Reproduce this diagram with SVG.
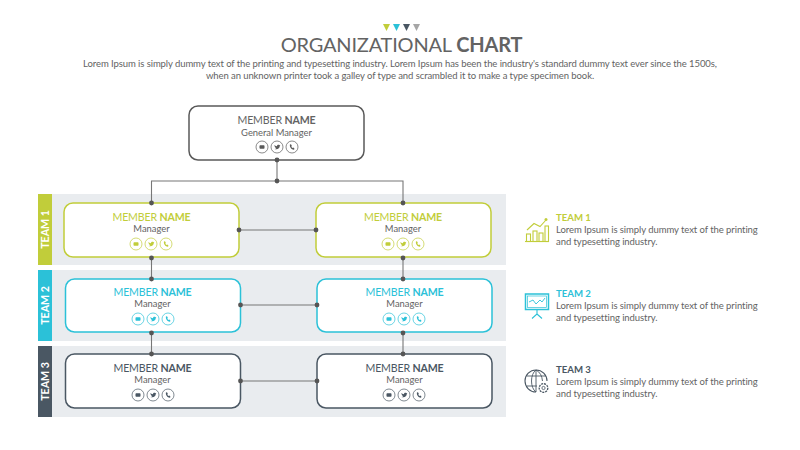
<svg xmlns="http://www.w3.org/2000/svg" width="800" height="450" viewBox="0 0 800 450">
<style>
text{font-family:"Lato","Liberation Sans",sans-serif;fill:#636363}
.title{font-size:20px;letter-spacing:-.2px;text-anchor:middle}
.lead{font-size:9.500px;letter-spacing:-.085px;text-anchor:middle}
.name{font-size:10.600px;letter-spacing:-.15px;text-anchor:middle}
.role{font-size:9.400px;text-anchor:middle}
.bar{font-size:10.600px;font-weight:700;fill:#fff;text-anchor:middle}
.th{font-size:9.600px;font-weight:700}
.td{font-size:9.500px;letter-spacing:-.07px}
.b{font-weight:700}
.node{fill:#fff;stroke-width:1.500}
.band{fill:#e9ecef}
.g{color:#c1cd3a}.c{color:#2bc1d8}.d{color:#4a5763}.k{color:#595959}
.gt{fill:#c1cd3a}.ct{fill:#2bc1d8}.dt{fill:#4a5763}
.line{stroke:#777;stroke-width:1.100;fill:none}
.dot{fill:#555}
.ic{fill:none;stroke:currentColor;stroke-width:1.100}
</style>
<defs>
<g id="social">
<circle cx="-15" cy="0" r="6" fill="none" stroke="currentColor" stroke-width=".7"/>
<circle cx="0" cy="0" r="6" fill="none" stroke="currentColor" stroke-width=".7"/>
<circle cx="15" cy="0" r="6" fill="none" stroke="currentColor" stroke-width=".7"/>
<rect x="-17.500" y="-1.700" width="5" height="3.400" rx=".7" fill="currentColor"/>
<path d="M-2.600 -1.900C-1.300 -.9 -.7 -.7 0 -.8C0 -2.200 1.700 -2.600 2.600 -1.700L3.300 -1.900L2.800 -1C2.800 1.300 .4 3.100 -2.600 1.900C-1.600 1.900 -1 1.600 -.7 1.200C-1.700 .9 -2.600 -.5 -2.600 -1.900Z" fill="currentColor"/>
<path d="M12.900 -2.500L14 -2.700L14.900 -1.100L14.200 -.3L15.500 1.100L16.400 .6L17.500 1.800L17 2.700C14.600 2.900 12.500 .2 12.900 -2.500Z" fill="currentColor"/>
</g>
</defs>

<g id="header">
<path d="M383 24h7l-3.500 7z" fill="#c1cd3a"/>
<path d="M393 24h7l-3.500 7z" fill="#2bc1d8"/>
<path d="M403 24h7l-3.500 7z" fill="#4a5763"/>
<path d="M413 24h7l-3.500 7z" fill="#a6a6a6"/>
<text class="title" x="401.500" y="52">ORGANIZATIONAL <tspan class="b">CHART</tspan></text>
<text class="lead" x="400" y="67">Lorem Ipsum is simply dummy text of the printing and typesetting industry. Lorem Ipsum has been the industry's standard dummy text ever since the 1500s,</text>
<text class="lead" x="400" y="79">when an unknown printer took a galley of type and scrambled it to make a type specimen book.</text>
</g>

<g id="bands">
<rect class="band" x="52" y="194" width="454" height="71"/>
<rect class="band" x="52" y="270" width="454" height="71"/>
<rect class="band" x="52" y="346" width="454" height="71"/>
</g>
<g id="team-bar-1"><rect x="38" y="194" width="14" height="71" fill="#c1cd3a"/><text class="bar" transform="translate(49 229.500) rotate(-90)">TEAM 1</text></g>
<g id="team-bar-2"><rect x="38" y="270" width="14" height="71" fill="#2bc1d8"/><text class="bar" transform="translate(49 305.500) rotate(-90)">TEAM 2</text></g>
<g id="team-bar-3"><rect x="38" y="346" width="14" height="71" fill="#4a5763"/><text class="bar" transform="translate(49 381.500) rotate(-90)">TEAM 3</text></g>

<g id="connectors">
<path class="line" d="M277 160V181M151.500 203V181H403V203"/>
<path class="line" d="M151.500 257V279M403 257V279M151.500 332V354M403 332V354"/>
<path class="line" d="M239 230H316M240.500 305H317M240.500 381H317"/>
</g>

<g id="node-gm">
<rect class="node" x="189" y="106" width="175" height="54" rx="9" stroke="#595959"/>
<text class="name" x="276.500" y="124">MEMBER <tspan class="b">NAME</tspan></text>
<text class="role" x="276.500" y="136">General Manager</text>
<use href="#social" x="277" y="147" class="k"/>
</g>

<g id="node-t1-l">
<rect class="node" x="64" y="203" width="175" height="54" rx="9" stroke="#c1cd3a"/>
<text class="name gt" x="151.500" y="221">MEMBER <tspan class="b">NAME</tspan></text>
<text class="role" x="151.500" y="232">Manager</text>
<use href="#social" x="151" y="244" class="g"/>
</g>
<g id="node-t1-r">
<rect class="node" x="316" y="203" width="175" height="54" rx="9" stroke="#c1cd3a"/>
<text class="name gt" x="403" y="221">MEMBER <tspan class="b">NAME</tspan></text>
<text class="role" x="403" y="232">Manager</text>
<use href="#social" x="403" y="244" class="g"/>
</g>
<g id="node-t2-l">
<rect class="node" x="65.500" y="279" width="175" height="53" rx="9" stroke="#2bc1d8"/>
<text class="name ct" x="152.500" y="296">MEMBER <tspan class="b">NAME</tspan></text>
<text class="role" x="152.500" y="307">Manager</text>
<use href="#social" x="153" y="319" class="c"/>
</g>
<g id="node-t2-r">
<rect class="node" x="317" y="279" width="175" height="53" rx="9" stroke="#2bc1d8"/>
<text class="name ct" x="404.500" y="296">MEMBER <tspan class="b">NAME</tspan></text>
<text class="role" x="404.500" y="307">Manager</text>
<use href="#social" x="404" y="319" class="c"/>
</g>
<g id="node-t3-l">
<rect class="node" x="65.500" y="354" width="175" height="54" rx="9" stroke="#4a5763"/>
<text class="name dt" x="152.500" y="372">MEMBER <tspan class="b">NAME</tspan></text>
<text class="role" x="152.500" y="383">Manager</text>
<use href="#social" x="153" y="395" class="d"/>
</g>
<g id="node-t3-r">
<rect class="node" x="317" y="354" width="175" height="54" rx="9" stroke="#4a5763"/>
<text class="name dt" x="404.500" y="372">MEMBER <tspan class="b">NAME</tspan></text>
<text class="role" x="404.500" y="383">Manager</text>
<use href="#social" x="404" y="395" class="d"/>
</g>

<g id="connector-dots" class="dot">
<circle cx="277" cy="160" r="2.400"/><circle cx="277" cy="181" r="2.400"/>
<circle cx="151.500" cy="203" r="2.400"/><circle cx="403" cy="203" r="2.400"/>
<circle cx="151.500" cy="258" r="2.400"/><circle cx="403" cy="258" r="2.400"/>
<circle cx="151.500" cy="279" r="2.400"/><circle cx="403" cy="279" r="2.400"/>
<circle cx="151.500" cy="333" r="2.400"/><circle cx="403" cy="333" r="2.400"/>
<circle cx="151.500" cy="354" r="2.400"/><circle cx="403" cy="354" r="2.400"/>
<circle cx="239" cy="230" r="2.400"/><circle cx="316" cy="230" r="2.400"/>
<circle cx="240.500" cy="305" r="2.400"/><circle cx="317" cy="305" r="2.400"/>
<circle cx="240.500" cy="381" r="2.400"/><circle cx="317" cy="381" r="2.400"/>
</g>

<g id="legend-1" class="g">
<g class="ic">
<path d="M525 241.500H549"/>
<rect x="526.500" y="234" width="4" height="7.500"/><rect x="533" y="231" width="4" height="10.500"/><rect x="539" y="233" width="4" height="8.500"/><rect x="545" y="226" width="3.500" height="15.500"/>
<path d="M527 230L534 223.500L540 226.500L546 220"/>
</g>
<circle cx="546" cy="219.500" r="1.500" fill="currentColor"/>
<text class="th gt" x="556" y="221">TEAM 1</text>
<text class="td" x="556" y="233">Lorem Ipsum is simply dummy text of the printing</text>
<text class="td" x="556" y="245">and typesetting industry.</text>
</g>
<g id="legend-2" class="c">
<g class="ic">
<rect x="525.500" y="294" width="23" height="15.500" stroke-width="1.500"/>
<rect x="527.500" y="296" width="19" height="11.500" stroke-width=".7"/>
<path d="M529 302L533 300L536 304L540 300L542 302L545 298" stroke-width=".9"/>
<path d="M537 310V314L532 318.500M537 314L542 318.500"/>
</g>
<text class="th ct" x="556" y="297">TEAM 2</text>
<text class="td" x="556" y="309">Lorem Ipsum is simply dummy text of the printing</text>
<text class="td" x="556" y="321">and typesetting industry.</text>
</g>
<g id="legend-3" class="d">
<g class="ic">
<path d="M547 381A11 11 0 1 0 536 392" stroke-width="1.100"/>
<path d="M536 370C530 374 530 388 536 392M536 370C540 372 542 376 542.500 381M536 370V392M526.500 376H546M526.500 386H537" stroke-width=".9"/>
<circle cx="543.500" cy="388" r="4.300" stroke-width="1.300" stroke-dasharray="2 .9"/>
<circle cx="543.500" cy="388" r="1.600" stroke-width=".8"/>
</g>
<text class="th dt" x="556" y="373">TEAM 3</text>
<text class="td" x="556" y="385">Lorem Ipsum is simply dummy text of the printing</text>
<text class="td" x="556" y="397">and typesetting industry.</text>
</g>
</svg>
